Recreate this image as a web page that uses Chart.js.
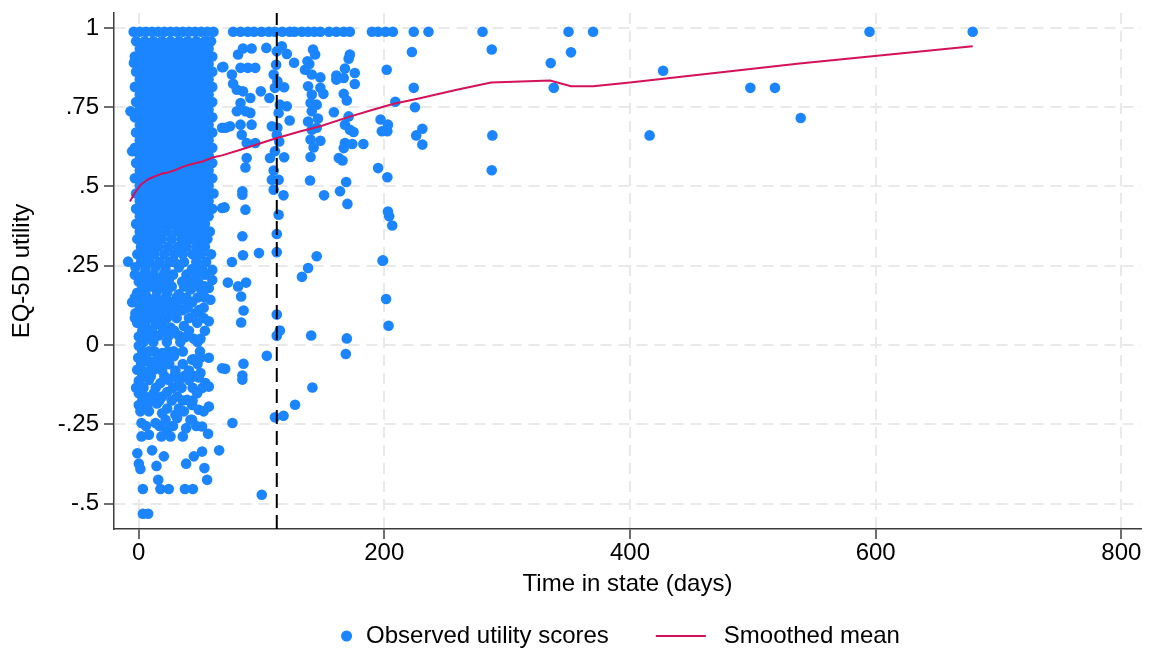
<!DOCTYPE html>
<html lang="en">
<head>
<meta charset="utf-8">
<title>EQ-5D utility by time in state</title>
<script src="https://cdn.jsdelivr.net/npm/chart.js@4.4.0/dist/chart.umd.min.js"></script>
<style>
  html, body { margin: 0; padding: 0; background: #fff; }
  #wrap { width: 1157px; height: 649px; }
</style>
</head>
<body>
<div id="wrap"><canvas id="chart" width="1157" height="649"></canvas></div>
<script>
// --- data ---
var xTitle = "Time in state (days)";
var yTitle = "EQ-5D utility";
var seriesNames = ["Observed utility scores", "Smoothed mean"];
var xTicks = [0, 200, 400, 600, 800];
var yTicks = [-0.5, -0.25, 0, 0.25, 0.5, 0.75, 1];
var cutoffDay = 112.5;

// observations at the ceiling (full health)
var ceilingUtility = 0.988;
var ceilingDays = [-4, 1, 6, 11, 16, 21, 26, 31, 36, 41, 46, 51, 56, 61,
    77, 83, 89, 94, 100, 106, 111, 117, 123, 127, 133, 138, 143, 148,
    155, 161, 167, 172, 190, 195, 201, 207, 224, 236, 280, 350, 370, 595, 679];

// dense block of early observations: [utility, days...]
var clusterRows = [
    [0.958, [-2, 5, 12, 19, 26, 33, 40, 47, 54, 59]],
    [0.934, [1, 8, 15, 22, 29, 36, 43, 50, 57]],
    [0.910, [-3, 4, 11, 18, 25, 32, 39, 46, 53, 60]],
    [0.886, [1, 8, 15, 22, 29, 36, 43, 50, 57]],
    [0.862, [-2, 5, 12, 19, 26, 33, 40, 47, 54, 60]],
    [0.838, [1, 8, 15, 22, 29, 36, 43, 50, 57]],
    [0.814, [-3, 4, 11, 18, 25, 32, 39, 46, 53, 60]],
    [0.790, [1, 8, 15, 22, 29, 36, 43, 50, 57]],
    [0.766, [-2, 5, 12, 19, 26, 33, 40, 47, 54, 60]],
    [0.742, [1, 8, 15, 22, 29, 36, 43, 50, 57]],
    [0.718, [-3, 4, 11, 18, 25, 32, 39, 46, 53, 60]],
    [0.694, [1, 8, 15, 22, 29, 36, 43, 50, 57]],
    [0.670, [-2, 5, 12, 19, 26, 33, 40, 47, 54, 60]],
    [0.646, [1, 8, 15, 22, 29, 36, 43, 50, 57]],
    [0.622, [-3, 4, 11, 18, 25, 32, 39, 46, 53, 60]],
    [0.598, [1, 8, 15, 22, 29, 36, 43, 50, 57]],
    [0.574, [-2, 5, 12, 19, 26, 33, 40, 47, 54, 60]],
    [0.550, [1, 8, 15, 22, 29, 36, 43, 50, 57]],
    [0.526, [-3, 4, 11, 18, 25, 32, 39, 46, 53, 60]],
    [0.502, [1, 8, 15, 22, 29, 36, 43, 50, 57]],
    [0.478, [-2, 5, 12, 19, 26, 33, 40, 47, 54, 61]],
    [0.454, [1, 8, 15, 22, 29, 36, 43, 50, 57]],
    [0.430, [-2, 4, 11, 18, 25, 32, 39, 46, 53, 60]],
    [0.406, [1, 8, 15, 22, 29, 36, 43, 50, 57]],
    [0.382, [-2, 5, 12, 19, 26, 33, 40, 47, 54]],
    [0.358, [1, 8, 15, 23, 31, 38, 45, 52, 58]],
    [0.334, [-1, 5, 12, 19, 27, 35, 42, 49, 56]],
    [0.310, [2, 9, 16, 24, 32, 39, 47, 54]],
    [0.286, [-1, 6, 13, 21, 29, 36, 44, 51, 59]]
];

// looser rows below the dense block: [utility, days...]
var lowerRows = [
    [0.262, [2, 9, 17, 25, 29, 37, 47, 55]],
    [0.222, [-3, 4, 12, 20, 28, 39, 47, 54]],
    [0.185, [3, 10, 19, 27, 37, 46, 54]],
    [0.150, [-3, 7, 14, 22, 31, 39, 48, 54]],
    [0.118, [1, 8, 15, 23, 31, 40, 53]],
    [0.085, [-3, 2, 9, 16, 23, 31, 41, 53]],
    [0.045, [3, 11, 20, 29, 41, 54]],
    [0.010, [4, 12, 23, 34, 48]],
    [-0.020, [3, 13, 24, 36, 50]],
    [-0.060, [2, 10, 18, 25, 36, 48]],
    [-0.098, [3, 10, 21, 29, 37, 45]],
    [-0.135, [-2, 4, 14, 28, 35, 44, 52]],
    [-0.175, [3, 10, 17, 27, 36, 44]],
    [-0.255, [6, 17, 28, 47]]
];

// early observations and edge points: [days, utility]
var lowerPoints = [
    [-6.6, 0.737], [-3.8, 0.89], [-5.2, 0.611], [68, 0.876], [68, 0.685], [68, 0.432], [-8.5, 0.263],
    [-2.5, 0.245], [5.6, 0.24], [13.8, 0.245], [21.9, 0.24], [32.8, 0.245], [43.6, 0.24], [51.7, 0.24], [60, 0.237],
    [0.2, 0.2], [8.4, 0.205], [16.5, 0.2], [24.6, 0.205], [35.5, 0.2], [43.6, 0.2], [49, 0.196], [60, 0.205],
    [-1.1, 0.165], [5.6, 0.16], [15, 0.17], [23.3, 0.165], [32.8, 0.16], [42.2, 0.175], [51.7, 0.165], [57.2, 0.18],
    [-5.2, 0.135], [3, 0.14], [11, 0.135], [19.2, 0.14], [27.3, 0.135], [35.5, 0.143], [43.6, 0.135], [58.5, 0.143],
    [-2.5, 0.1], [4.3, 0.105], [11, 0.1], [17.8, 0.105], [27.3, 0.105], [35.5, 0.11], [46.3, 0.1], [49, 0.11],
    [-1.1, 0.07], [5.6, 0.06], [13.8, 0.065], [19.2, 0.07], [26, 0.055], [36.9, 0.06], [47.7, 0.07], [57.2, 0.075],
    [0.2, 0.027], [8.4, 0.027], [16.5, 0.03], [24.6, 0.03], [32.8, 0.03], [38.2, 0.025], [45, 0.02], [50.4, 0.02],
    [0.2, -0.002], [8.4, -0.02], [19.2, -0.025], [28.7, -0.02], [43.6, -0.046],
    [-0.3, -0.04], [7, -0.045], [15, -0.045], [21.9, -0.04], [28.7, -0.035], [45, -0.045], [50.4, -0.04], [57.2, -0.04],
    [-1.1, -0.078], [5.6, -0.085], [12.4, -0.078], [19.2, -0.08], [30, -0.08], [41, -0.08], [50.4, -0.088],
    [0.2, -0.113], [8.4, -0.11], [17.8, -0.12], [24.6, -0.11], [32.8, -0.113], [41, -0.11], [49, -0.102], [54.4, -0.12],
    [0.2, -0.152], [5.6, -0.162], [12.4, -0.152], [19.2, -0.162], [23.3, -0.148], [31.4, -0.162], [39.5, -0.173], [47.7, -0.152], [57.2, -0.131],
    [0.2, -0.189], [7, -0.194], [15, -0.184], [23.3, -0.2], [32.8, -0.2], [43.6, -0.189], [49, -0.204],
    [1.5, -0.209], [8.4, -0.209], [19.2, -0.215], [30, -0.22], [36.9, -0.209], [43.6, -0.236], [53, -0.209], [57.2, -0.194],
    [2.4, -0.246], [13.8, -0.246], [22, -0.236], [31.4, -0.23], [42.2, -0.236],
    [2.4, -0.288], [8.4, -0.283], [18.6, -0.288], [23.3, -0.267], [26, -0.288], [36, -0.288], [38.7, -0.262], [51.7, -0.257], [56.6, -0.28],
    [-1, -0.341], [0.2, -0.374], [1.5, -0.391], [11, -0.332], [14.6, -0.381], [20.6, -0.351], [38.7, -0.374],
    [45, -0.351], [51.7, -0.336], [53.6, -0.388], [65.6, -0.332],
    [16, -0.425], [55.8, -0.425],
    [3.5, -0.454], [17.8, -0.454], [24.6, -0.454], [37.7, -0.454], [44.2, -0.454],
    [3.5, -0.532], [7.8, -0.532]
];

// later, sparser observations: [days, utility]
var sparsePoints = [
    [69, 0.877], [76, 0.853], [77, 0.824], [81, 0.916], [85, 0.935], [92, 0.935], [83, 0.874], [89, 0.874], [95, 0.874],
    [80, 0.805], [85, 0.8], [91, 0.779], [99.5, 0.8], [106.5, 0.779], [83, 0.763], [80, 0.737], [87, 0.737], [91, 0.732],
    [71, 0.685], [74.5, 0.69], [83, 0.695], [92, 0.695], [84, 0.663], [88, 0.637], [95, 0.637], [88, 0.59], [87, 0.56],
    [84.5, 0.485], [84.5, 0.474], [87, 0.427], [70, 0.434], [84.5, 0.343], [85, 0.283], [98, 0.29], [76, 0.262],
    [104, 0.937], [112.5, 0.926], [116.6, 0.942], [120.7, 0.918], [126.6, 0.89], [112, 0.884], [110, 0.853], [113, 0.832],
    [111, 0.811], [118.5, 0.813], [115, 0.758], [120.7, 0.753], [114, 0.732], [123, 0.708], [108.5, 0.69], [113, 0.685],
    [112.5, 0.663], [114.5, 0.642], [111, 0.611], [107, 0.59], [118.5, 0.592], [110, 0.55], [108.5, 0.521], [114, 0.521],
    [110, 0.49], [118, 0.472], [114, 0.411], [112.5, 0.35], [112.5, 0.293],
    [137.5, 0.895], [142, 0.932], [143.7, 0.916], [139, 0.886], [135.5, 0.868], [141, 0.853], [148, 0.844], [138, 0.816],
    [148, 0.811], [150.5, 0.792], [141, 0.79], [140, 0.763], [145, 0.758], [141, 0.737], [159, 0.734], [138, 0.705],
    [146, 0.714], [141, 0.679], [145, 0.685], [140, 0.648], [148, 0.644], [142.5, 0.623], [140, 0.593], [139.6, 0.519],
    [151, 0.472], [145, 0.28], [138, 0.243], [133, 0.215],
    [172, 0.916], [171, 0.903], [168, 0.872], [176, 0.858], [161, 0.85], [161, 0.837], [167, 0.842], [176, 0.823],
    [167, 0.792], [169.5, 0.771], [171, 0.721], [168, 0.695], [172, 0.679], [175, 0.672], [168, 0.637], [174, 0.634],
    [183, 0.634], [167, 0.621], [163, 0.59], [166, 0.582], [169, 0.514], [164, 0.485], [170, 0.445],
    [202, 0.868], [209, 0.767], [197, 0.711], [203, 0.695], [198, 0.674], [202.5, 0.674], [195, 0.558], [202.5, 0.529],
    [203, 0.421], [204, 0.406], [206.5, 0.377], [199, 0.267],
    [222.5, 0.924], [224, 0.811], [225, 0.75], [231, 0.682], [226, 0.661], [231, 0.632],
    [287.5, 0.932], [288, 0.661], [287.5, 0.551], [335.5, 0.889], [338, 0.811], [352, 0.923],
    [416, 0.661], [427, 0.865], [498, 0.811], [518, 0.811], [539, 0.716],
    [140.5, 0.03], [169.5, 0.021], [168.7, -0.028], [141.5, -0.134], [201.5, 0.145], [203.5, 0.061], [198.6, 0.266],
    [72.7, 0.197], [81, 0.185], [87.5, 0.197], [83.5, 0.153], [85.5, 0.109], [83.5, 0.071],
    [112.5, 0.096], [115, 0.046], [112.5, 0.029], [104.4, -0.034], [70.5, -0.075], [68, -0.073], [85.4, -0.059],
    [84.5, -0.096], [84.5, -0.109], [127.4, -0.188], [111, -0.228], [118, -0.223], [76.4, -0.246], [100.3, -0.472]
];

// smoothed mean curve
var smoothDays = [-7, -3, 0, 2, 5, 8, 12, 16, 19, 23, 26, 30, 36, 41, 46, 52, 61, 68, 83, 100,
    112, 132, 148, 170, 190, 207, 229, 260, 287, 335, 352, 370, 400, 538, 679];
var smoothMean = [0.453, 0.48, 0.496, 0.506, 0.515, 0.523, 0.53, 0.536, 0.541, 0.543, 0.547, 0.552, 0.562, 0.568, 0.573, 0.579, 0.592, 0.598, 0.616, 0.637,
    0.652, 0.674, 0.69, 0.718, 0.741, 0.76, 0.778, 0.806, 0.828, 0.834, 0.816, 0.816, 0.828, 0.888, 0.942];

// --- build datasets ---
var observed = [];
for (var i in ceilingDays) {
    observed.push({ x: ceilingDays[i], y: ceilingUtility });
}
clusterRows.concat(lowerRows).forEach(function (row) {
    row[1].forEach(function (d) { observed.push({ x: d, y: row[0] }); });
});
lowerPoints.concat(sparsePoints).forEach(function (p) {
    observed.push({ x: p[0], y: p[1] });
});

var smoothed = smoothDays.map(function (d, k) { return { x: d, y: smoothMean[k] }; });

var blue = "#1a85ff";
var crimson = "#d41159";
var gridGrey = "#e9e9e9";
var axisGrey = "#3c3c3c";
var fontFamily = "'Liberation Sans', Arial, Helvetica, sans-serif";
var fontSize = 24;

function yLabel(v) {
    if (v === 0) return "0";
    var s = String(Math.abs(v)).replace(/^0/, "");
    return (v < 0 ? "-" : "") + s;
}

// legend drawn below the axis title, centred on the plot region
var bottomLegend = {
    id: "bottomLegend",
    afterDraw: function (chart) {
        var ctx = chart.ctx;
        var area = chart.chartArea;
        ctx.save();
        ctx.font = fontSize + "px " + fontFamily;
        ctx.textBaseline = "middle";
        ctx.fillStyle = "#000";
        var w1 = ctx.measureText(seriesNames[0]).width;
        var w2 = ctx.measureText(seriesNames[1]).width;
        var total = 11 + 14 + w1 + 47 + 50 + 18 + w2;
        var x = area.left + (area.width - total) / 2 - 7;
        var y = 636;

        ctx.fillStyle = blue;
        ctx.beginPath();
        ctx.arc(x + 5.5, y, 5.5, 0, Math.PI * 2);
        ctx.fill();
        x += 11 + 14;
        ctx.fillStyle = "#000";
        ctx.fillText(seriesNames[0], x, y);
        x += w1 + 47;

        ctx.strokeStyle = crimson;
        ctx.lineWidth = 2;
        ctx.beginPath();
        ctx.moveTo(x, y);
        ctx.lineTo(x + 50, y);
        ctx.stroke();
        x += 50 + 18;
        ctx.fillText(seriesNames[1], x, y);
        ctx.restore();
    }
};

var ctx = document.getElementById("chart").getContext("2d");
var myChart = new Chart(ctx, {
    type: "scatter",
    data: {
        datasets: [{
            label: seriesNames[0],
            data: observed,
            backgroundColor: blue,
            borderWidth: 0,
            pointRadius: 5.3,
            order: 3
        }, {
            label: "cutoff",
            data: [{ x: cutoffDay, y: -0.58 }, { x: cutoffDay, y: 1.047 }],
            showLine: true,
            borderColor: "#000",
            borderWidth: 2,
            borderDash: [14, 7],
            pointRadius: 0,
            order: 2
        }, {
            label: seriesNames[1],
            data: smoothed,
            showLine: true,
            borderColor: crimson,
            borderWidth: 2,
            pointRadius: 0,
            tension: 0,
            order: 1
        }]
    },
    plugins: [bottomLegend],
    options: {
        responsive: false,
        animation: false,
        devicePixelRatio: 1,
        layout: { padding: { top: 13, right: 16, bottom: 45, left: 0 } },
        plugins: {
            legend: { display: false },
            tooltip: { enabled: false }
        },
        scales: {
            x: {
                type: "linear",
                min: -20,
                max: 816,
                afterBuildTicks: function (scale) {
                    scale.ticks = xTicks.map(function (v) { return { value: v }; });
                },
                afterFit: function (scale) {
                    scale.height = 75;
                    scale.paddingLeft = 0;
                    scale.paddingRight = 0;
                },
                ticks: {
                    color: "#000",
                    font: { family: fontFamily, size: fontSize },
                    padding: 0,
                    maxRotation: 0,
                    autoSkip: false
                },
                grid: {
                    color: gridGrey,
                    lineWidth: 2,
                    tickColor: axisGrey,
                    tickLength: 10,
                    tickWidth: 1.5
                },
                border: { display: true, color: axisGrey, width: 1.5, dash: [11, 7] },
                title: {
                    display: true,
                    text: xTitle,
                    color: "#000",
                    font: { family: fontFamily, size: fontSize },
                    padding: { top: 4, bottom: 5 }
                }
            },
            y: {
                type: "linear",
                min: -0.58,
                max: 1.047,
                afterBuildTicks: function (scale) {
                    scale.ticks = yTicks.map(function (v) { return { value: v }; });
                },
                afterFit: function (scale) {
                    scale.width = 114;
                    scale.paddingTop = 0;
                    scale.paddingBottom = 0;
                },
                ticks: {
                    color: "#000",
                    font: { family: fontFamily, size: fontSize },
                    padding: 5,
                    callback: function (v) { return yLabel(v); }
                },
                grid: {
                    color: gridGrey,
                    lineWidth: 2,
                    tickColor: axisGrey,
                    tickLength: 10,
                    tickWidth: 1.5
                },
                border: { display: true, color: axisGrey, width: 1.5, dash: [11, 7] },
                title: {
                    display: true,
                    text: yTitle,
                    color: "#000",
                    font: { family: fontFamily, size: fontSize },
                    padding: { top: 8, bottom: 4 }
                }
            }
        }
    }
});
</script>
</body>
</html>
